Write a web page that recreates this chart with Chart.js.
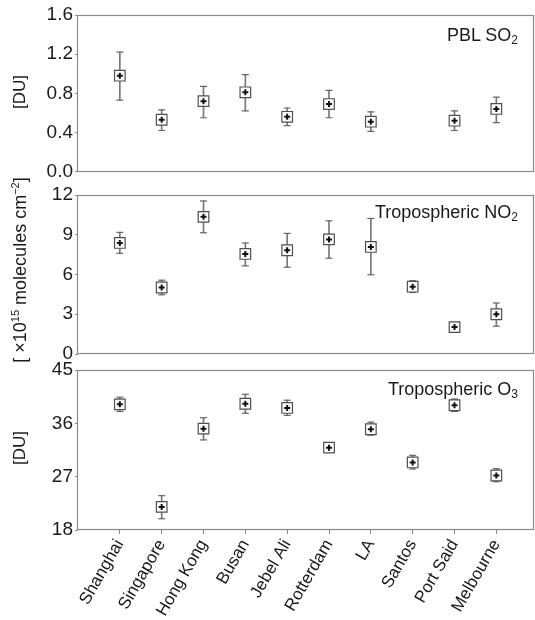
<!DOCTYPE html>
<html><head><meta charset="utf-8">
<script src="https://cdn.jsdelivr.net/npm/chart.js@4.4.1/dist/chart.umd.min.js"></script>
<style>
html,body{margin:0;padding:0;background:#fff;}
#wrap{position:relative;width:535px;height:620px;overflow:hidden;font-family:"Liberation Sans",Arial,sans-serif;color:#1a1a1a;}
canvas{position:absolute;left:0;}
.lbl{position:absolute;font-size:18px;line-height:18px;white-space:nowrap;right:17px;}
.lbl sub{font-size:12px;vertical-align:-3px;line-height:0;}
.ytitle{position:absolute;white-space:nowrap;font-size:17px;line-height:17px;transform:translate(-50%,-50%) rotate(-90deg);}
.ytitle sup{font-size:11px;vertical-align:7px;line-height:0;}
</style></head>
<body><div id="wrap">
<canvas id="c1" width="535" height="185" style="top:0px"></canvas>
<canvas id="c2" width="535" height="195" style="top:175px"></canvas>
<canvas id="c3" width="535" height="265" style="top:355px"></canvas>
<div class="lbl" style="top:26px">PBL SO<sub>2</sub></div>
<div class="lbl" style="top:203px">Tropospheric NO<sub>2</sub></div>
<div class="lbl" style="top:380px">Tropospheric O<sub>3</sub></div>
<div class="ytitle" style="left:19px;top:92px">[DU]</div>
<div class="ytitle" style="left:20px;top:270px;font-size:18px">[ ×10<sup>15</sup> molecules cm<sup>−2</sup>]</div>
<div class="ytitle" style="left:19px;top:448px">[DU]</div>
</div>
<script>
const cities = ['Shanghai','Singapore','Hong Kong','Busan','Jebel Ali','Rotterdam','LA','Santos','Port Said','Melbourne'];

const so2Mean = [0.98, 0.53, 0.72, 0.81, 0.56, 0.69, 0.51, null, 0.52, 0.64];
const so2Low  = [0.73, 0.42, 0.55, 0.62, 0.47, 0.55, 0.41, null, 0.42, 0.50];
const so2High = [1.22, 0.63, 0.87, 0.99, 0.65, 0.83, 0.61, null, 0.62, 0.76];

const no2Mean = [8.38, 5.02, 10.35, 7.55, 7.83, 8.65, 8.08, 5.08, 2.03, 3.00];
const no2Low  = [7.60, 4.47, 9.15, 6.65, 6.55, 7.23, 5.98, 4.65, 1.80, 2.10];
const no2High = [9.18, 5.57, 11.55, 8.38, 9.10, 10.05, 10.23, 5.53, 2.25, 3.85];

const o3Mean = [39.2, 21.9, 35.1, 39.3, 38.6, 31.9, 35.0, 29.4, 39.05, 27.2];
const o3Low  = [38.0, 19.9, 33.2, 37.7, 37.35, 31.1, 34.0, 28.3, 38.0, 26.15];
const o3High = [40.4, 23.8, 36.95, 40.9, 39.9, 32.7, 36.2, 30.6, 40.1, 28.35];

const so2Ticks = {min: 0, max: 1.6, step: 0.4, dec: 1};
const no2Ticks = {min: 0, max: 12, step: 3, dec: 0};
const o3Ticks  = {min: 18, max: 45, step: 9, dec: 0};

const XFONT = {family: '"Liberation Sans", Arial, sans-serif', size: 17};
const YFONT = {family: '"Liberation Sans", Arial, sans-serif', size: 19};
const TXT = '#1a1a1a';
const FRAME = '#8a8a8a';

const framePlugin = {
  id: 'frame',
  beforeDatasetsDraw(chart) {
    const {ctx, chartArea: a} = chart;
    ctx.save();
    ctx.strokeStyle = FRAME;
    ctx.lineWidth = 1.2;
    const l = Math.round(a.left) - 0.5, t = Math.round(a.top) + 0.5;
    const r = Math.round(a.right) - 0.5, b = Math.round(a.bottom) - 0.5;
    ctx.strokeRect(l, t, r - l, b - t);
    ctx.restore();
  }
};

function pts(vals) {
  return cities.map((c, i) => vals[i] == null ? null : {x: i + 1, y: vals[i]}).filter(Boolean);
}
function ranges(lo, hi) {
  return cities.map((c, i) => lo[i] == null ? null : {x: i + 1, y: [lo[i], hi[i]]}).filter(Boolean);
}

function makePanel(id, mean, lo, hi, tk, padTop, padBottom, showX) {
  new Chart(document.getElementById(id), {
    type: 'scatter',
    data: {
      datasets: [
        {data: pts(mean), pointStyle: 'cross', radius: 3, borderWidth: 2, borderColor: '#111', backgroundColor: '#111'},
        {data: pts(mean), pointStyle: 'rect', radius: 7.5, borderWidth: 1.2, borderColor: '#4f4f4f', backgroundColor: '#fff'},
        {data: pts(hi), pointStyle: 'line', radius: 3.5, borderWidth: 1.2, borderColor: '#666'},
        {data: pts(lo), pointStyle: 'line', radius: 3.5, borderWidth: 1.2, borderColor: '#666'},
        {type: 'bar', data: ranges(lo, hi), barThickness: 1, backgroundColor: '#777', borderWidth: 0}
      ]
    },
    options: {
      responsive: false,
      animation: false,
      devicePixelRatio: 1,
      events: [],
      layout: {autoPadding: false, padding: {top: padTop, bottom: padBottom, left: 0, right: 1}},
      plugins: {legend: {display: false}, tooltip: {enabled: false}},
      scales: {
        x: {
          type: 'linear', min: 0, max: 10.9, offset: false,
          display: showX,
          afterBuildTicks: s => { s.ticks = cities.map((c, i) => ({value: i + 1})); },
          afterFit: s => { if (showX) s.height = 90; },
          border: {display: false},
          grid: {display: true, offset: false, drawOnChartArea: false, drawTicks: true, tickLength: 4, color: FRAME},
          ticks: {
            autoSkip: false, minRotation: 60, maxRotation: 60, padding: 2,
            color: TXT, font: XFONT,
            callback: v => cities[v - 1]
          }
        },
        y: {
          type: 'linear', min: tk.min, max: tk.max, beginAtZero: false,
          afterFit: s => { s.width = 78; },
          border: {display: false},
          grid: {display: true, drawOnChartArea: false, drawTicks: true, tickLength: 3, color: FRAME},
          ticks: {stepSize: tk.step, padding: 2, color: TXT, font: YFONT,
                  callback: v => Number(v).toFixed(tk.dec)}
        }
      }
    },
    plugins: [framePlugin]
  });
}

makePanel('c1', so2Mean, so2Low, so2High, so2Ticks, 15, 11, false);
makePanel('c2', no2Mean, no2Low, no2High, no2Ticks, 20, 16, false);
makePanel('c3', o3Mean, o3Low, o3High, o3Ticks, 15, 0, true);
</script>
</body></html>
